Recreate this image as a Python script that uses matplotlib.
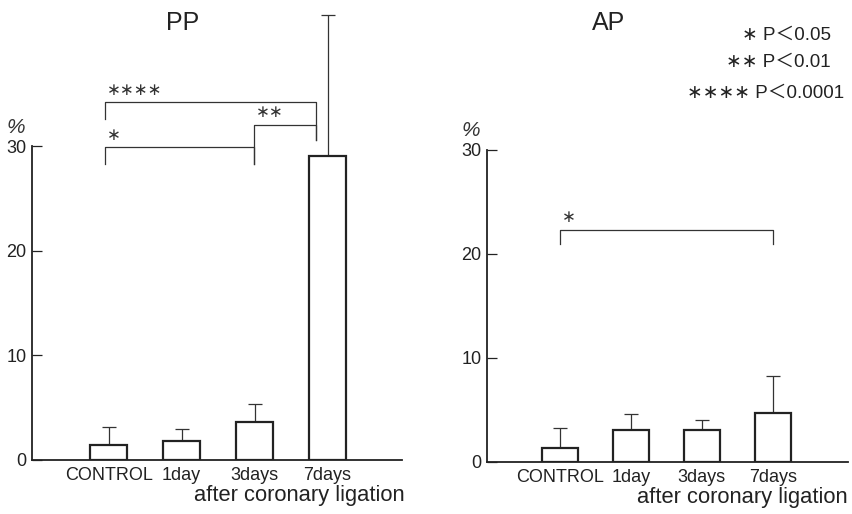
import matplotlib
matplotlib.use('Agg')
import matplotlib.pyplot as plt

plt.rcParams['font.family'] = ['Liberation Sans', 'DejaVu Sans', 'Noto Sans CJK JP']

categories = ['CONTROL', '1day', '3days', '7days']

pp_mean = [1.45, 1.8, 3.6, 29.1]
pp_upper = [3.2, 3.0, 5.35, 42.6]

ap_mean = [1.35, 3.05, 3.05, 4.7]
ap_upper = [3.3, 4.65, 4.07, 8.27]

# brackets: (x left, x right, y top, left leg bottom, right leg bottom, label)
pp_brackets = [
    (-0.05, 1.99, 29.9, 28.3, 28.3, '∗'),
    (1.99, 2.84, 32.05, 28.3, 30.6, '∗∗'),
    (-0.05, 2.84, 34.2, 32.6, 30.6, '∗∗∗∗'),
]
ap_brackets = [
    (0.0, 3.0, 22.3, 20.9, 20.9, '∗'),
]

sig_legend = ['∗ P＜0.05', '∗∗ P＜0.01', '∗∗∗∗ P＜0.0001']

fig = plt.figure(figsize=(8.52, 5.14), dpi=100)
ax1 = fig.add_axes([32 / 852, 54 / 514, 370 / 852, 460 / 514])
ax2 = fig.add_axes([487 / 852, 52 / 514, 361 / 852, 458 / 514])

INK = '#222222'


def panel(ax, mean, upper, brackets, xlim):
    x = range(len(categories))
    ax.bar(x, mean, width=0.5, color='white', edgecolor=INK, linewidth=1.6, zorder=3)
    err = [u - m for u, m in zip(upper, mean)]
    ax.errorbar(x, mean, yerr=[[0] * len(mean), err], fmt='none', ecolor='#333333',
                elinewidth=0.9, capsize=5, capthick=0.9, zorder=2)
    ax.set_xlim(*xlim)
    ax.set_ylim(0, 44)
    for side in ('top', 'right'):
        ax.spines[side].set_visible(False)
    ax.spines['left'].set_bounds(0, 30)
    for side in ('left', 'bottom'):
        ax.spines[side].set_linewidth(1.3)
        ax.spines[side].set_color(INK)
    ax.set_yticks([0, 10, 20, 30])
    ax.tick_params(axis='y', direction='in', length=7, width=0.9, pad=4,
                   colors=INK, labelsize=13)
    ax.tick_params(axis='x', length=0, pad=5, colors=INK, labelsize=13)
    ax.set_xticks(list(x))
    ax.set_xticklabels(categories)
    ax.text(-0.045, 30.9, '%', transform=ax.get_yaxis_transform(), ha='center', va='bottom',
            fontsize=15, color='#333333', style='italic')
    for xl, xr, yt, yl, yr, lab in brackets:
        ax.plot([xl, xl, xr, xr], [yl, yt, yt, yr], color='#333333', lw=0.9)
        ax.text(xl + 0.03, yt + 0.35, lab, ha='left', va='bottom', fontsize=12,
                family=['DejaVu Sans'], color='#333333')


panel(ax1, pp_mean, pp_upper, pp_brackets, (-1.05, 4.02))
panel(ax2, ap_mean, ap_upper, ap_brackets, (-1.03, 4.06))

# titles and footers placed in figure pixels
for t, xc in zip(['PP', 'AP'], [183, 609]):
    fig.text(xc / 852, 1 - 23 / 514, t, ha='center', va='center', fontsize=18, color=INK)
for right, yc in zip([405, 848], [496, 497]):
    fig.text(right / 852, 1 - yc / 514, 'after coronary ligation', ha='right', va='center',
             fontsize=15.8, color=INK)

for t, y, right in zip(sig_legend, [35, 62, 93], [831, 831, 844]):
    fig.text(right / 852, 1 - y / 514, t, ha='right', va='center', fontsize=13.5,
             family=['Liberation Sans', 'DejaVu Sans', 'Noto Sans CJK JP'], color=INK)

fig.savefig('out.png', dpi=100)
